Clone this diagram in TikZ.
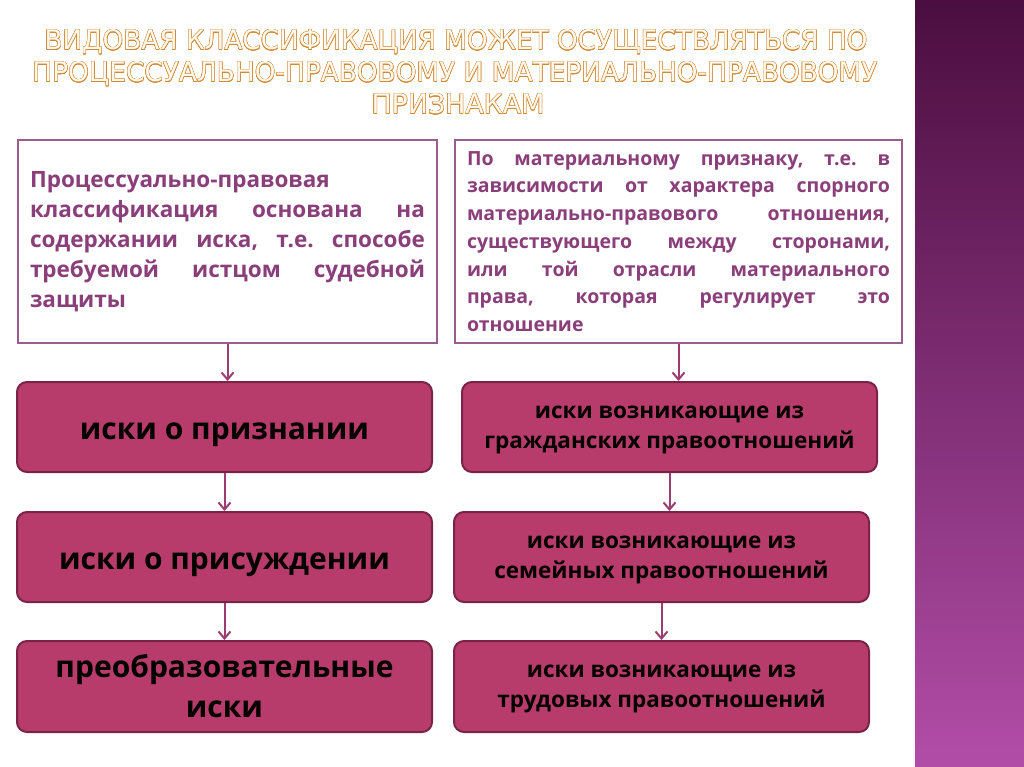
\documentclass[tikz,border=0pt]{standalone}
\usepackage{fontspec}
\setmainfont{Open Sans}
\newfontfamily\titlefont{DejaVu Sans}
\usepackage{contour}
\contourlength{0.35pt}
\usetikzlibrary{arrows.meta,positioning}
\frenchspacing

\definecolor{plum}{HTML}{8B3F7A}
\definecolor{rosefill}{HTML}{B83C6B}
\definecolor{roseline}{HTML}{7B2347}
\definecolor{arrowcol}{HTML}{9B3D70}
\definecolor{framecol}{HTML}{9A5C8C}
\definecolor{gold}{HTML}{D08A35}
\definecolor{titlefill}{HTML}{FFF8EC}
\definecolor{bandtop}{HTML}{4B0E40}
\definecolor{bandmid}{HTML}{8A387E}
\definecolor{bandbot}{HTML}{B24DA7}

\tikzset{
  headbox/.style={draw=framecol, line width=1.2pt, fill=white, minimum height=203pt,
    inner sep=0pt, align=justify, text=plum},
  kindbox/.style={draw=roseline, line width=2pt, fill=rosefill, rounded corners=10pt,
    minimum width=415pt, minimum height=90pt, align=center, text=black},
  oneline/.style={text height=24pt, text depth=0pt},
  twoline/.style={text depth=0pt},
  flow/.style={draw=arrowcol, line width=2pt, -{Straight Barb[length=7pt,width=12pt]}},
  titleline/.style={anchor=base, inner sep=0pt, text=titlefill}
}

\begin{document}
\begin{tikzpicture}[x=1pt,y=-1pt]

\useasboundingbox (0,0) rectangle (1024,767);
\fill[white] (0,0) rectangle (1024,767);
\shade[top color=bandtop, middle color=bandmid, bottom color=bandbot] (915,0) rectangle (1024,767);

% title
\node[titleline] (title1) at (456,50) {\titlefont\fontsize{24}{24}\selectfont
  \resizebox{823pt}{20pt}{\contour{gold}{ВИДОВАЯ КЛАССИФИКАЦИЯ МОЖЕТ ОСУЩЕСТВЛЯТЬСЯ ПО}}};
\node[titleline] (title2) at (455,82) {\titlefont\fontsize{24}{24}\selectfont
  \resizebox{845pt}{20pt}{\contour{gold}{ПРОЦЕССУАЛЬНО-ПРАВОВОМУ И МАТЕРИАЛЬНО-ПРАВОВОМУ}}};
\node[titleline] (title3) at (458,114) {\titlefont\fontsize{24}{24}\selectfont
  \resizebox{173pt}{20pt}{\contour{gold}{ПРИЗНАКАМ}}};

% upper boxes
\node[headbox, minimum width=419pt, text width=395pt, font=\bfseries\fontsize{22.5}{30}\selectfont]
  (procbox) at (227.5,241.5)
  {\exhyphenpenalty=10000\hyphenpenalty=10000
   Процессуально-правовая\\ классификация основана на\linebreak
   содержании иска, т.е. способе\linebreak требуемой истцом судебной\linebreak защиты};
\node[headbox, minimum width=447pt, text width=423pt, font=\bfseries\fontsize{19.5}{27.7}\selectfont]
  (matbox) at (678.5,241.5)
  {\exhyphenpenalty=10000\hyphenpenalty=10000
   По материальному признаку, т.е. в\linebreak зависимости от характера спорного\linebreak
   материально-правового отношения,\linebreak существующего между сторонами,\linebreak
   или той отрасли материального\linebreak права, которая регулирует это\linebreak отношение};

% left column
\node[kindbox, oneline, font=\bfseries\fontsize{30}{40}\selectfont] (recog) at (224.5,427) {иски о признании};
\node[kindbox, oneline, font=\bfseries\fontsize{30}{40}\selectfont] (award) at (224.5,557) {иски о присуждении};
\node[kindbox, font=\bfseries\fontsize{30}{40}\selectfont, minimum height=91pt] (transf) at (224.5,686.5)
  {преобразовательные\\ иски};

% right column
\node[kindbox, twoline, font=\bfseries\fontsize{22.5}{30}\selectfont] (civil) at (669.5,427)
  {иски возникающие из\\ гражданских правоотношений};
\node[kindbox, twoline, font=\bfseries\fontsize{22.5}{30}\selectfont] (family) at (661.5,557)
  {иски возникающие из\\ семейных правоотношений};
\node[kindbox, twoline, font=\bfseries\fontsize{22.5}{30}\selectfont, minimum height=91pt] (labour) at (661.5,686.5)
  {иски возникающие из\\ трудовых правоотношений};

% arrows
\draw[flow] (procbox.south) -- (procbox.south |- recog.north);
\draw[flow] (recog) -- (award);
\draw[flow] (award) -- (transf);
\draw[flow] (matbox.south) -- (matbox.south |- civil.north);
\draw[flow] (civil.south) -- (civil.south |- family.north);
\draw[flow] (family) -- (labour);

\end{tikzpicture}
\end{document}
